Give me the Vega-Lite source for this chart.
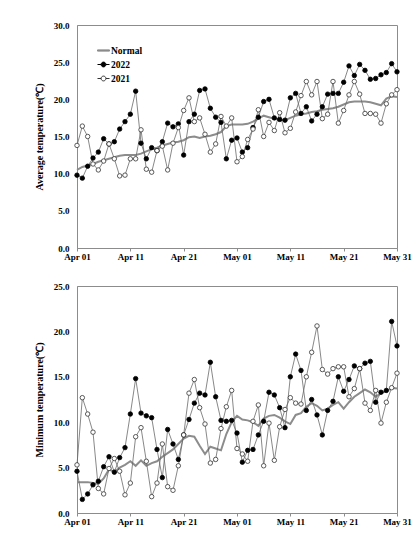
{
  "$schema": "https://vega.github.io/schema/vega-lite/v6.json",
  "padding": {"left": 33, "top": 20, "right": 16, "bottom": 4},
  "background": "white",
  "spacing": 19,
  "config": {
    "font": "Liberation Serif",
    "view": {"stroke": "#8c8c8c", "strokeWidth": 1},
    "axis": {
      "labelFont": "Liberation Serif", "labelFontWeight": "bold", "labelFontSize": 9, "labelColor": "black",
      "titleFont": "Liberation Serif", "titleFontWeight": "bold", "titleFontSize": 10, "titleColor": "black",
      "domainColor": "#8c8c8c", "tickColor": "#8c8c8c", "grid": false
    }
  },
  "data": {"values": [
    {"date":"2022-04-01","series":"Normal","avg":10.5,"min":3.4},{"date":"2022-04-01","series":"2022","avg":9.8,"min":4.6},{"date":"2022-04-01","series":"2021","avg":13.8,"min":5.3},
    {"date":"2022-04-02","series":"Normal","avg":10.9,"min":3.4},{"date":"2022-04-02","series":"2022","avg":9.4,"min":1.5},{"date":"2022-04-02","series":"2021","avg":16.4,"min":12.7},
    {"date":"2022-04-03","series":"Normal","avg":11.1,"min":3.4},{"date":"2022-04-03","series":"2022","avg":11.0,"min":2.1},{"date":"2022-04-03","series":"2021","avg":15.0,"min":10.9},
    {"date":"2022-04-04","series":"Normal","avg":11.3,"min":3.3},{"date":"2022-04-04","series":"2022","avg":12.1,"min":3.1},{"date":"2022-04-04","series":"2021","avg":11.3,"min":8.9},
    {"date":"2022-04-05","series":"Normal","avg":11.6,"min":3.2},{"date":"2022-04-05","series":"2022","avg":12.9,"min":3.5},{"date":"2022-04-05","series":"2021","avg":10.5,"min":2.7},
    {"date":"2022-04-06","series":"Normal","avg":11.8,"min":3.8},{"date":"2022-04-06","series":"2022","avg":14.7,"min":5.1},{"date":"2022-04-06","series":"2021","avg":11.7,"min":2.1},
    {"date":"2022-04-07","series":"Normal","avg":12.0,"min":4.8},{"date":"2022-04-07","series":"2022","avg":14.0,"min":6.2},{"date":"2022-04-07","series":"2021","avg":14.0,"min":4.9},
    {"date":"2022-04-08","series":"Normal","avg":12.2,"min":4.5},{"date":"2022-04-08","series":"2022","avg":14.3,"min":4.5},{"date":"2022-04-08","series":"2021","avg":12.0,"min":6.0},
    {"date":"2022-04-09","series":"Normal","avg":12.4,"min":5.0},{"date":"2022-04-09","series":"2022","avg":16.0,"min":6.1},{"date":"2022-04-09","series":"2021","avg":9.7,"min":4.6},
    {"date":"2022-04-10","series":"Normal","avg":12.5,"min":5.3},{"date":"2022-04-10","series":"2022","avg":17.0,"min":7.2},{"date":"2022-04-10","series":"2021","avg":9.8,"min":2.0},
    {"date":"2022-04-11","series":"Normal","avg":12.5,"min":5.7},{"date":"2022-04-11","series":"2022","avg":18.0,"min":10.9},{"date":"2022-04-11","series":"2021","avg":12.0,"min":3.3},
    {"date":"2022-04-12","series":"Normal","avg":12.5,"min":5.2},{"date":"2022-04-12","series":"2022","avg":21.1,"min":14.8},{"date":"2022-04-12","series":"2021","avg":12.0,"min":8.4},
    {"date":"2022-04-13","series":"Normal","avg":12.7,"min":5.8},{"date":"2022-04-13","series":"2022","avg":14.1,"min":11.0},{"date":"2022-04-13","series":"2021","avg":15.9,"min":9.4},
    {"date":"2022-04-14","series":"Normal","avg":13.0,"min":5.2},{"date":"2022-04-14","series":"2022","avg":12.0,"min":10.7},{"date":"2022-04-14","series":"2021","avg":10.6,"min":5.7},
    {"date":"2022-04-15","series":"Normal","avg":13.3,"min":5.5},{"date":"2022-04-15","series":"2022","avg":13.5,"min":10.5},{"date":"2022-04-15","series":"2021","avg":10.2,"min":1.8},
    {"date":"2022-04-16","series":"Normal","avg":13.5,"min":5.7},{"date":"2022-04-16","series":"2022","avg":13.1,"min":7.0},{"date":"2022-04-16","series":"2021","avg":13.1,"min":3.3},
    {"date":"2022-04-17","series":"Normal","avg":13.8,"min":6.2},{"date":"2022-04-17","series":"2022","avg":14.3,"min":3.9},{"date":"2022-04-17","series":"2021","avg":13.7,"min":7.6},
    {"date":"2022-04-18","series":"Normal","avg":14.0,"min":6.6},{"date":"2022-04-18","series":"2022","avg":16.8,"min":9.2},{"date":"2022-04-18","series":"2021","avg":10.5,"min":2.9},
    {"date":"2022-04-19","series":"Normal","avg":14.2,"min":7.0},{"date":"2022-04-19","series":"2022","avg":16.3,"min":7.6},{"date":"2022-04-19","series":"2021","avg":14.1,"min":2.5},
    {"date":"2022-04-20","series":"Normal","avg":14.3,"min":7.6},{"date":"2022-04-20","series":"2022","avg":16.7,"min":5.9},{"date":"2022-04-20","series":"2021","avg":16.2,"min":5.2},
    {"date":"2022-04-21","series":"Normal","avg":14.5,"min":8.2},{"date":"2022-04-21","series":"2022","avg":12.5,"min":8.6},{"date":"2022-04-21","series":"2021","avg":18.5,"min":8.6},
    {"date":"2022-04-22","series":"Normal","avg":14.9,"min":8.5},{"date":"2022-04-22","series":"2022","avg":17.0,"min":10.3},{"date":"2022-04-22","series":"2021","avg":20.2,"min":13.2},
    {"date":"2022-04-23","series":"Normal","avg":15.0,"min":8.4},{"date":"2022-04-23","series":"2022","avg":18.0,"min":12.1},{"date":"2022-04-23","series":"2021","avg":17.0,"min":14.7},
    {"date":"2022-04-24","series":"Normal","avg":14.8,"min":7.4},{"date":"2022-04-24","series":"2022","avg":21.2,"min":13.2},{"date":"2022-04-24","series":"2021","avg":17.5,"min":11.6},
    {"date":"2022-04-25","series":"Normal","avg":15.0,"min":6.5},{"date":"2022-04-25","series":"2022","avg":21.4,"min":13.0},{"date":"2022-04-25","series":"2021","avg":15.3,"min":9.8},
    {"date":"2022-04-26","series":"Normal","avg":15.1,"min":7.3},{"date":"2022-04-26","series":"2022","avg":18.8,"min":16.6},{"date":"2022-04-26","series":"2021","avg":12.9,"min":5.5},
    {"date":"2022-04-27","series":"Normal","avg":15.3,"min":7.1},{"date":"2022-04-27","series":"2022","avg":17.6,"min":12.8},{"date":"2022-04-27","series":"2021","avg":14.0,"min":5.9},
    {"date":"2022-04-28","series":"Normal","avg":15.6,"min":6.9},{"date":"2022-04-28","series":"2022","avg":16.9,"min":10.2},{"date":"2022-04-28","series":"2021","avg":17.7,"min":9.3},
    {"date":"2022-04-29","series":"Normal","avg":16.4,"min":8.7},{"date":"2022-04-29","series":"2022","avg":12.0,"min":10.1},{"date":"2022-04-29","series":"2021","avg":16.4,"min":11.7},
    {"date":"2022-04-30","series":"Normal","avg":16.6,"min":10.0},{"date":"2022-04-30","series":"2022","avg":14.5,"min":10.2},{"date":"2022-04-30","series":"2021","avg":17.5,"min":13.5},
    {"date":"2022-05-01","series":"Normal","avg":16.6,"min":10.7},{"date":"2022-05-01","series":"2022","avg":14.8,"min":8.8},{"date":"2022-05-01","series":"2021","avg":11.6,"min":7.1},
    {"date":"2022-05-02","series":"Normal","avg":16.6,"min":10.3},{"date":"2022-05-02","series":"2022","avg":12.9,"min":5.6},{"date":"2022-05-02","series":"2021","avg":12.3,"min":6.5},
    {"date":"2022-05-03","series":"Normal","avg":16.7,"min":10.2},{"date":"2022-05-03","series":"2022","avg":13.5,"min":6.9},{"date":"2022-05-03","series":"2021","avg":14.6,"min":5.7},
    {"date":"2022-05-04","series":"Normal","avg":17.0,"min":10.0},{"date":"2022-05-04","series":"2022","avg":16.2,"min":7.0},{"date":"2022-05-04","series":"2021","avg":16.0,"min":10.1},
    {"date":"2022-05-05","series":"Normal","avg":17.4,"min":9.6},{"date":"2022-05-05","series":"2022","avg":17.6,"min":8.6},{"date":"2022-05-05","series":"2021","avg":18.6,"min":11.9},
    {"date":"2022-05-06","series":"Normal","avg":17.8,"min":10.4},{"date":"2022-05-06","series":"2022","avg":19.7,"min":10.1},{"date":"2022-05-06","series":"2021","avg":15.0,"min":5.2},
    {"date":"2022-05-07","series":"Normal","avg":17.6,"min":10.7},{"date":"2022-05-07","series":"2022","avg":20.0,"min":13.3},{"date":"2022-05-07","series":"2021","avg":16.9,"min":9.9},
    {"date":"2022-05-08","series":"Normal","avg":17.4,"min":10.8},{"date":"2022-05-08","series":"2022","avg":17.5,"min":13.0},{"date":"2022-05-08","series":"2021","avg":15.8,"min":5.8},
    {"date":"2022-05-09","series":"Normal","avg":17.3,"min":10.5},{"date":"2022-05-09","series":"2022","avg":17.3,"min":11.6},{"date":"2022-05-09","series":"2021","avg":18.2,"min":9.5},
    {"date":"2022-05-10","series":"Normal","avg":17.2,"min":10.1},{"date":"2022-05-10","series":"2022","avg":17.2,"min":9.4},{"date":"2022-05-10","series":"2021","avg":15.5,"min":11.4},
    {"date":"2022-05-11","series":"Normal","avg":17.5,"min":9.8},{"date":"2022-05-11","series":"2022","avg":20.2,"min":15.0},{"date":"2022-05-11","series":"2021","avg":16.1,"min":12.7},
    {"date":"2022-05-12","series":"Normal","avg":17.8,"min":10.8},{"date":"2022-05-12","series":"2022","avg":20.8,"min":17.5},{"date":"2022-05-12","series":"2021","avg":18.3,"min":12.1},
    {"date":"2022-05-13","series":"Normal","avg":18.0,"min":11.0},{"date":"2022-05-13","series":"2022","avg":18.1,"min":15.7},{"date":"2022-05-13","series":"2021","avg":20.5,"min":12.0},
    {"date":"2022-05-14","series":"Normal","avg":18.1,"min":11.7},{"date":"2022-05-14","series":"2022","avg":19.0,"min":11.3},{"date":"2022-05-14","series":"2021","avg":22.4,"min":15.0},
    {"date":"2022-05-15","series":"Normal","avg":18.3,"min":12.1},{"date":"2022-05-15","series":"2022","avg":17.1,"min":12.5},{"date":"2022-05-15","series":"2021","avg":20.6,"min":17.7},
    {"date":"2022-05-16","series":"Normal","avg":18.4,"min":11.8},{"date":"2022-05-16","series":"2022","avg":18.0,"min":10.8},{"date":"2022-05-16","series":"2021","avg":22.4,"min":20.6},
    {"date":"2022-05-17","series":"Normal","avg":18.6,"min":11.3},{"date":"2022-05-17","series":"2022","avg":19.0,"min":8.6},{"date":"2022-05-17","series":"2021","avg":17.4,"min":15.8},
    {"date":"2022-05-18","series":"Normal","avg":18.7,"min":11.5},{"date":"2022-05-18","series":"2022","avg":20.7,"min":11.3},{"date":"2022-05-18","series":"2021","avg":18.0,"min":15.3},
    {"date":"2022-05-19","series":"Normal","avg":18.8,"min":11.9},{"date":"2022-05-19","series":"2022","avg":20.8,"min":12.3},{"date":"2022-05-19","series":"2021","avg":22.4,"min":15.9},
    {"date":"2022-05-20","series":"Normal","avg":19.0,"min":12.2},{"date":"2022-05-20","series":"2022","avg":20.8,"min":15.0},{"date":"2022-05-20","series":"2021","avg":16.8,"min":16.1},
    {"date":"2022-05-21","series":"Normal","avg":19.3,"min":11.5},{"date":"2022-05-21","series":"2022","avg":22.3,"min":13.4},{"date":"2022-05-21","series":"2021","avg":18.5,"min":16.1},
    {"date":"2022-05-22","series":"Normal","avg":19.6,"min":12.2},{"date":"2022-05-22","series":"2022","avg":24.5,"min":14.7},{"date":"2022-05-22","series":"2021","avg":20.6,"min":12.8},
    {"date":"2022-05-23","series":"Normal","avg":19.7,"min":12.8},{"date":"2022-05-23","series":"2022","avg":23.2,"min":16.2},{"date":"2022-05-23","series":"2021","avg":22.4,"min":13.7},
    {"date":"2022-05-24","series":"Normal","avg":19.7,"min":13.2},{"date":"2022-05-24","series":"2022","avg":24.7,"min":15.9},{"date":"2022-05-24","series":"2021","avg":20.7,"min":15.9},
    {"date":"2022-05-25","series":"Normal","avg":19.7,"min":13.6},{"date":"2022-05-25","series":"2022","avg":23.9,"min":16.5},{"date":"2022-05-25","series":"2021","avg":18.1,"min":12.1},
    {"date":"2022-05-26","series":"Normal","avg":19.6,"min":13.3},{"date":"2022-05-26","series":"2022","avg":22.7,"min":16.7},{"date":"2022-05-26","series":"2021","avg":18.1,"min":11.3},
    {"date":"2022-05-27","series":"Normal","avg":19.4,"min":12.8},{"date":"2022-05-27","series":"2022","avg":22.8,"min":12.2},{"date":"2022-05-27","series":"2021","avg":18.0,"min":13.5},
    {"date":"2022-05-28","series":"Normal","avg":19.2,"min":13.2},{"date":"2022-05-28","series":"2022","avg":23.3,"min":13.3},{"date":"2022-05-28","series":"2021","avg":16.8,"min":9.9},
    {"date":"2022-05-29","series":"Normal","avg":20.1,"min":13.4},{"date":"2022-05-29","series":"2022","avg":23.6,"min":13.5},{"date":"2022-05-29","series":"2021","avg":19.4,"min":12.2},
    {"date":"2022-05-30","series":"Normal","avg":20.4,"min":13.8},{"date":"2022-05-30","series":"2022","avg":24.8,"min":21.1},{"date":"2022-05-30","series":"2021","avg":20.6,"min":13.8},
    {"date":"2022-05-31","series":"Normal","avg":20.3,"min":13.7},{"date":"2022-05-31","series":"2022","avg":23.7,"min":18.4},{"date":"2022-05-31","series":"2021","avg":21.3,"min":15.4}
  ]},
  "vconcat": [
    {
      "width": 320, "height": 223,
      "encoding": {
        "x": {"field": "date", "type": "temporal",
          "scale": {"type": "utc", "nice": false, "domain": [{"year": 2022, "month": 4, "date": 1, "utc": true}, {"year": 2022, "month": 5, "date": 31, "utc": true}]},
          "axis": {"title": null, "format": "%b %d", "tickSize": 3, "labelPadding": 1, "labelFlush": false,
            "values": [{"year": 2022, "month": 4, "date": 1, "utc": true}, {"year": 2022, "month": 4, "date": 11, "utc": true}, {"year": 2022, "month": 4, "date": 21, "utc": true}, {"year": 2022, "month": 5, "date": 1, "utc": true}, {"year": 2022, "month": 5, "date": 11, "utc": true}, {"year": 2022, "month": 5, "date": 21, "utc": true}, {"year": 2022, "month": 5, "date": 31, "utc": true}]}},
        "y": {"field": "avg", "type": "quantitative",
          "scale": {"domain": [0, 30], "nice": false},
          "axis": {"title": "Average temperature(℃)", "values": [0, 5, 10, 15, 20, 25, 30], "format": ".1f", "ticks": false, "labelPadding": 8, "titlePadding": 9}}
      },
      "layer": [
        {"transform": [{"filter": "datum.series == 'Normal'"}], "mark": {"type": "line", "color": "#8c8c8c", "strokeWidth": 2}},
        {"transform": [{"filter": "datum.series != 'Normal'"}], "mark": {"type": "line", "color": "#6a6a6a", "strokeWidth": 0.8}, "encoding": {"detail": {"field": "series"}}},
        {"transform": [{"filter": "datum.series == '2022'"}], "mark": {"type": "point", "shape": "circle", "size": 20, "strokeWidth": 0.8, "fill": "black", "stroke": "black", "opacity": 1}},
        {"transform": [{"filter": "datum.series == '2021'"}], "mark": {"type": "point", "shape": "circle", "size": 20, "strokeWidth": 0.8, "fill": "white", "stroke": "#333333", "opacity": 1}},
        {"transform": [{"filter": "datum.series == 'legend-only'"}], "mark": {"type": "point", "opacity": 1},
          "encoding": {
            "shape": {"field": "series", "type": "nominal", "scale": {"domain": ["Normal", "2022", "2021"], "range": ["M-1,-0.1H1V0.1H-1Z", "M-1,0H-0.4M0.4,0H1M-0.4,0A0.4,0.4,0,1,1,0.4,0A0.4,0.4,0,1,1,-0.4,0Z", "M-1,0H-0.4M0.4,0H1M-0.4,0A0.4,0.4,0,1,1,0.4,0A0.4,0.4,0,1,1,-0.4,0Z"]},
              "legend": {"orient": "none", "legendX": 20, "legendY": 19, "title": null, "labelFont": "Liberation Serif", "labelFontWeight": "bold", "labelFontSize": 9.5, "labelColor": "black", "symbolSize": 144, "symbolStrokeWidth": 1, "symbolOpacity": 1, "rowPadding": 3, "labelOffset": 1, "padding": 0}},
            "fill": {"field": "series", "type": "nominal", "scale": {"domain": ["Normal", "2022", "2021"], "range": ["#8c8c8c", "black", "white"]},
              "legend": {"orient": "none", "legendX": 20, "legendY": 19, "title": null, "labelFont": "Liberation Serif", "labelFontWeight": "bold", "labelFontSize": 9.5, "labelColor": "black", "symbolSize": 144, "symbolStrokeWidth": 1, "symbolOpacity": 1, "rowPadding": 3, "labelOffset": 1, "padding": 0}},
            "stroke": {"field": "series", "type": "nominal", "scale": {"domain": ["Normal", "2022", "2021"], "range": ["#8c8c8c", "black", "#333333"]},
              "legend": {"orient": "none", "legendX": 20, "legendY": 19, "title": null, "labelFont": "Liberation Serif", "labelFontWeight": "bold", "labelFontSize": 9.5, "labelColor": "black", "symbolSize": 144, "symbolStrokeWidth": 1, "symbolOpacity": 1, "rowPadding": 3, "labelOffset": 1, "padding": 0}}
          }}
      ]
    },
    {
      "width": 320, "height": 227,
      "encoding": {
        "x": {"field": "date", "type": "temporal",
          "scale": {"type": "utc", "nice": false, "domain": [{"year": 2022, "month": 4, "date": 1, "utc": true}, {"year": 2022, "month": 5, "date": 31, "utc": true}]},
          "axis": {"title": null, "format": "%b %d", "tickSize": 3, "labelPadding": 1, "labelFlush": false,
            "values": [{"year": 2022, "month": 4, "date": 1, "utc": true}, {"year": 2022, "month": 4, "date": 11, "utc": true}, {"year": 2022, "month": 4, "date": 21, "utc": true}, {"year": 2022, "month": 5, "date": 1, "utc": true}, {"year": 2022, "month": 5, "date": 11, "utc": true}, {"year": 2022, "month": 5, "date": 21, "utc": true}, {"year": 2022, "month": 5, "date": 31, "utc": true}]}},
        "y": {"field": "min", "type": "quantitative",
          "scale": {"domain": [0, 25], "nice": false},
          "axis": {"title": "Minimum temperature(℃)", "values": [0, 5, 10, 15, 20, 25], "format": ".1f", "ticks": false, "labelPadding": 8, "titlePadding": 9}}
      },
      "layer": [
        {"transform": [{"filter": "datum.series == 'Normal'"}], "mark": {"type": "line", "color": "#8c8c8c", "strokeWidth": 2}},
        {"transform": [{"filter": "datum.series != 'Normal'"}], "mark": {"type": "line", "color": "#6a6a6a", "strokeWidth": 0.8}, "encoding": {"detail": {"field": "series"}}},
        {"transform": [{"filter": "datum.series == '2022'"}], "mark": {"type": "point", "shape": "circle", "size": 20, "strokeWidth": 0.8, "fill": "black", "stroke": "black", "opacity": 1}},
        {"transform": [{"filter": "datum.series == '2021'"}], "mark": {"type": "point", "shape": "circle", "size": 20, "strokeWidth": 0.8, "fill": "white", "stroke": "#333333", "opacity": 1}}
      ]
    }
  ]
}
